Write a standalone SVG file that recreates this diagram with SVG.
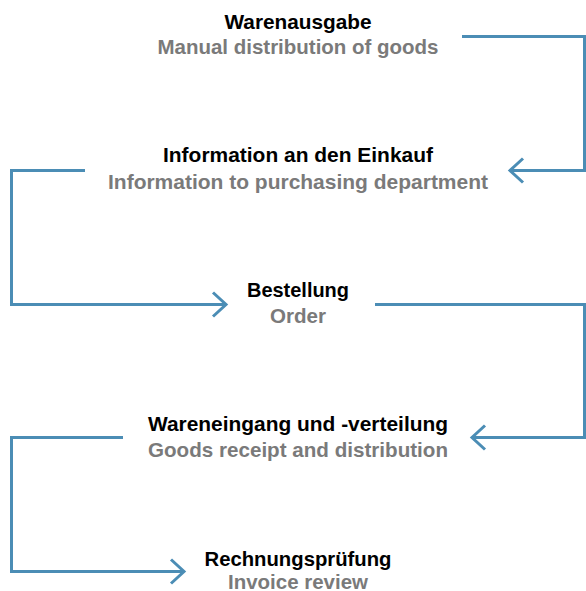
<svg xmlns="http://www.w3.org/2000/svg" width="586" height="591" viewBox="0 0 586 591">
<style>
text{font-family:"Liberation Sans Narrow","Liberation Sans",Arial,sans-serif;font-weight:bold;font-size:20.5px;text-anchor:middle}
.t{fill:#000}
.s{fill:#7a7a7a}
.c{fill:none;stroke:#4b8db5;stroke-width:3;stroke-linejoin:miter}
</style>
<defs>
<marker id="ah" markerUnits="userSpaceOnUse" markerWidth="30" markerHeight="30" viewBox="-20 -15 25 30" refX="0" refY="0" orient="auto">
<path d="M-13,-12 L0,0 L-13,12" fill="none" stroke="#4b8db5" stroke-width="3"/>
</marker>
</defs>
<rect width="586" height="591" fill="#fff"/>
<g id="connectors">
<path class="c" d="M462,36.5 H584.5 V170.5 H510" marker-end="url(#ah)"/>
<path class="c" d="M85,170.5 H11.5 V304.5 H226" marker-end="url(#ah)"/>
<path class="c" d="M375,304.5 H584.5 V437.5 H472" marker-end="url(#ah)"/>
<path class="c" d="M123,437.5 H11.5 V571.5 H184" marker-end="url(#ah)"/>
</g>
<g id="n1">
<text class="t" x="298" y="28.5" textLength="147" lengthAdjust="spacingAndGlyphs">Warenausgabe</text>
<text class="s" x="298" y="54" textLength="281" lengthAdjust="spacingAndGlyphs">Manual distribution of goods</text>
</g>
<g id="n2">
<text class="t" x="298" y="162" textLength="270" lengthAdjust="spacingAndGlyphs">Information an den Einkauf</text>
<text class="s" x="298" y="189" textLength="380" lengthAdjust="spacingAndGlyphs">Information to purchasing department</text>
</g>
<g id="n3">
<text class="t" x="298" y="297" textLength="102" lengthAdjust="spacingAndGlyphs">Bestellung</text>
<text class="s" x="298" y="323" textLength="56" lengthAdjust="spacingAndGlyphs">Order</text>
</g>
<g id="n4">
<text class="t" x="298" y="430.5" textLength="300" lengthAdjust="spacingAndGlyphs">Wareneingang und -verteilung</text>
<text class="s" x="298" y="456.5" textLength="300" lengthAdjust="spacingAndGlyphs">Goods receipt and distribution</text>
</g>
<g id="n5">
<text class="t" x="298" y="565.5" textLength="187" lengthAdjust="spacingAndGlyphs">Rechnungsprüfung</text>
<text class="s" x="298" y="589" textLength="140" lengthAdjust="spacingAndGlyphs">Invoice review</text>
</g>
</svg>
